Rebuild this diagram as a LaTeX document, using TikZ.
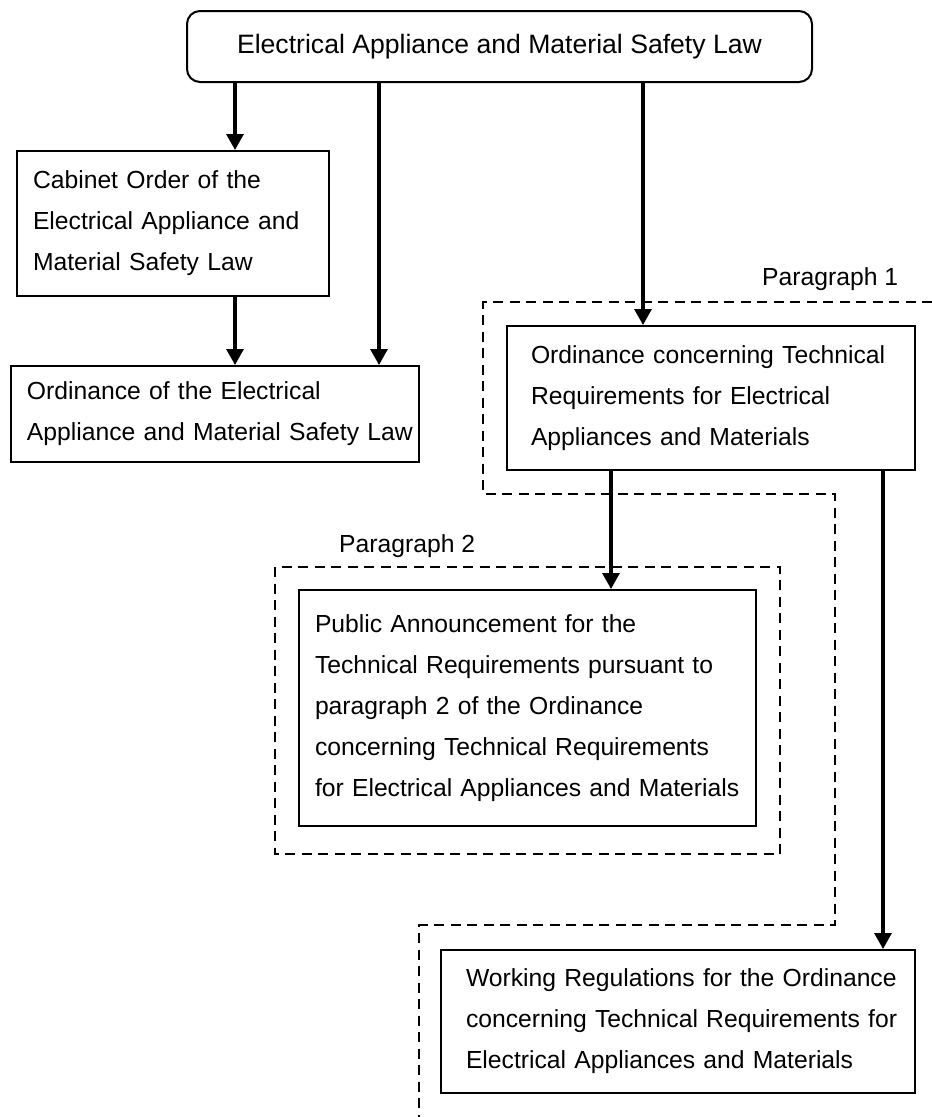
\documentclass[tikz,border=0pt]{standalone}
\usepackage{fontspec}
\setmainfont{Liberation Sans}
\usetikzlibrary{arrows.meta}
\begin{document}
\begin{tikzpicture}[x=1pt,y=-1pt,
  body/.style={font=\fontsize{24.7}{41}\selectfont},
  docbox/.style={draw, line width=2pt, rectangle, align=left, body, inner ysep=0pt},
  conn/.style={line width=3.2pt, -{Triangle[length=16pt,width=17pt]}},
  zone/.style={line width=2.8pt, dash pattern=on 10pt off 6.5pt},
  tag/.style={body, anchor=base west, inner sep=0pt},
]
\fill[white] (0,0) rectangle (932,1117);
\useasboundingbox (0,0) rectangle (932,1117);

% dashed paragraph zones
\draw[zone] (932,302) -- (483,302) -- (483,494) -- (835,494) -- (835,925) -- (419,925) -- (419,1117);
\draw[zone] (275,567) rectangle (780,854);
\node[tag] (p1) at (762,285) {Paragraph 1};
\node[tag] (p2) at (339,552) {Paragraph 2};

% documents
\node[draw, line width=2pt, rounded corners=13pt, minimum width=625pt, minimum height=71pt,
      font=\fontsize{26.6}{32}\selectfont] (law) at (499.5,46.5)
      {Electrical Appliance and Material Safety Law};

\node[docbox, inner xsep=16pt, text width=280pt, minimum height=145pt] (cab) at (173,223.5)
  {\mbox{Cabinet Order of the}\\\mbox{Electrical Appliance and}\\\mbox{Material Safety Law}};

\node[docbox, inner xsep=16pt, text width=376pt, minimum height=96pt] (ord) at (215,414)
  {\mbox{Ordinance of the Electrical}\\\mbox{Appliance and Material Safety Law}};

\node[docbox, inner xsep=24pt, text width=360pt, minimum height=144pt] (tech) at (711,398)
  {\mbox{Ordinance concerning Technical}\\\mbox{Requirements for Electrical}\\\mbox{Appliances and Materials}};

\node[docbox, inner xsep=16pt, text width=425pt, minimum height=236pt] (pub) at (527.5,708)
  {\mbox{Public Announcement for the}\\\mbox{Technical Requirements pursuant to}\\\mbox{paragraph 2 of the Ordinance}\\\mbox{concerning Technical Requirements}\\\mbox{for Electrical Appliances and Materials}};

\node[docbox, inner xsep=25pt, text width=424pt, minimum height=143pt] (work) at (678,1021.5)
  {\mbox{Working Regulations for the Ordinance}\\\mbox{concerning Technical Requirements for}\\\mbox{Electrical Appliances and Materials}};

% connector columns
\coordinate (c1) at (235,0);
\coordinate (c2) at (379,0);
\coordinate (c3) at (643,0);
\coordinate (c4) at (611,0);
\coordinate (c5) at (883,0);

\draw[conn] (law.south -| c1) -- (cab.north -| c1);
\draw[conn] (law.south -| c2) -- (ord.north -| c2);
\draw[conn] (law.south -| c3) -- (tech.north -| c3);
\draw[conn] (cab.south -| c1) -- (ord.north -| c1);
\draw[conn] (tech.south -| c4) -- (pub.north -| c4);
\draw[conn] (tech.south -| c5) -- (work.north -| c5);
\end{tikzpicture}
\end{document}
